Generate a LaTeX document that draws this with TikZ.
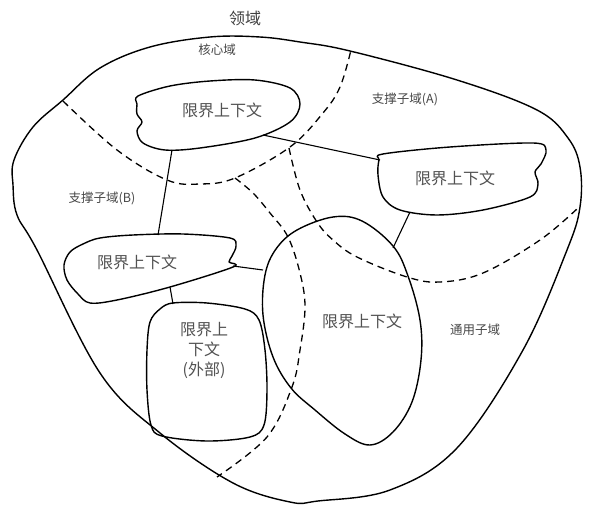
\documentclass[tikz,border=0pt]{standalone}
\usepackage{fontspec}
\newfontfamily\cjk{Noto Sans CJK SC}
\begin{document}
\begin{tikzpicture}[x=1pt,y=-1pt,
  outline/.style={line width=1.4pt, line join=round},
  blob/.style={line width=1.4pt, line join=round},
  link/.style={line width=1.1pt},
  sub/.style={line width=1.3pt, dash pattern=on 7pt off 5pt},
  bctext/.style={font=\cjk\fontsize{16}{20}\selectfont, text=black!68, align=center},
  lbl/.style={font=\cjk\fontsize{12.5}{15}\selectfont, text=black!72},
  title/.style={font=\cjk\fontsize{16}{20}\selectfont, text=black!75}]
\useasboundingbox (0,0) rectangle (590,511);
\fill[white] (0,0) rectangle (590,511);

% outer domain boundary
\draw[outline] plot[smooth cycle, tension=0.6] coordinates {
  (14,160) (33,127) (63,100) (100,68) (150,47) (210,37) (260,37) (300,42) (350,51)
  (457,80) (537,110) (568,138) (580,167) (580,207) (567,250) (523,350) (457,448)
  (390,490) (318,501) (290,502) (233,483) (160,433) (100,373) (37,250) (17,215) (13,185)};

% sub-domain boundaries (dashed)
\draw[sub] plot[smooth, tension=0.6] coordinates {
  (63,101) (117,150) (167,180) (200,184) (235,178) (290,147) (323,113) (340,87) (351,50)};
\draw[sub] plot[smooth, tension=0.6] coordinates {
  (235,178) (253,193) (270,213) (288,237) (300,273) (305,307) (300,350) (292,387) (267,437) (217,477)};
\draw[sub] plot[smooth, tension=0.6] coordinates {
  (289,148) (300,190) (317,222) (333,240) (357,257) (407,277) (440,282) (483,273) (540,240) (578,208)};

% connector end points
\coordinate (c1a) at (172,150);
\coordinate (c1b) at (158,235);
\coordinate (c2a) at (263,135);
\coordinate (c2b) at (380,160);
\coordinate (c3a) at (410,212);
\coordinate (c3b) at (393,248);
\coordinate (c4a) at (233,266);
\coordinate (c4b) at (263,270);
\coordinate (c5a) at (170,287);
\coordinate (c5b) at (173,304);

% connectors
\draw[link] (c1a) -- (c1b);
\draw[link] (c2a) -- (c2b);
\draw[link] (c3a) -- (c3b);
\draw[link] (c4a) -- (c4b);
\draw[link] (c5a) -- (c5b);

% bounded context 1 (core)
\draw[blob] plot[smooth cycle, tension=0.55] coordinates {
  (138,96) (170,86) (210,81) (255,80) (290,88) (300,104) (290,122) (255,138) (200,148)
  (165,150) (143,143) (137,131) (142,122) (137,114) (137,104)};
% bounded context 2 (support A)
\draw[blob] plot[smooth cycle, tension=0.55] coordinates {
  (383,154) (450,147) (533,143) (546,150) (541,164) (535,172) (538,184) (530,197)
  (483,210) (437,215) (400,210) (383,197) (378,175) (379,160)};
% bounded context 3 (support B)
\draw[blob] plot[smooth cycle, tension=0.55] coordinates {
  (100,238) (133,235) (183,234) (230,238) (236,246) (232,256) (229,262) (233,267)
  (170,287) (117,300) (90,303) (78,294) (67,280) (64,265) (70,252) (83,244)};
% bounded context 4 (large)
\draw[blob] plot[smooth cycle, tension=0.6] coordinates {
  (333,217) (362,221) (393,246) (408,276) (420,320) (421,360) (412,402) (393,432)
  (370,445) (345,434) (315,410) (291,388) (273,357) (263,315) (265,275) (276,249) (297,230)};
% bounded context 5 (external)
\draw[blob] plot[smooth cycle, tension=0.55] coordinates {
  (173,303) (207,303) (245,309) (259,320) (265,350) (267,390) (264,425) (250,437)
  (207,441) (162,436) (151,425) (147,390) (147,350) (150,322) (160,309)};

% texts
\node[title] (t0) at (245,18) {领域};
\node[lbl] (l1) at (217,50) {核心域};
\node[lbl] (l2) at (405,99) {支撑子域(A)};
\node[lbl] (l3) at (102,198) {支撑子域(B)};
\node[lbl] (l4) at (475,330) {通用子域};

\node[bctext] (b1) at (222,110) {限界上下文};
\node[bctext] (b2) at (455,178) {限界上下文};
\node[bctext] (b3) at (137,262) {限界上下文};
\node[bctext] (b4) at (362,321) {限界上下文};
\node[bctext] (b5) at (204,350) {限界上\\下文\\(外部)};
\end{tikzpicture}
\end{document}
